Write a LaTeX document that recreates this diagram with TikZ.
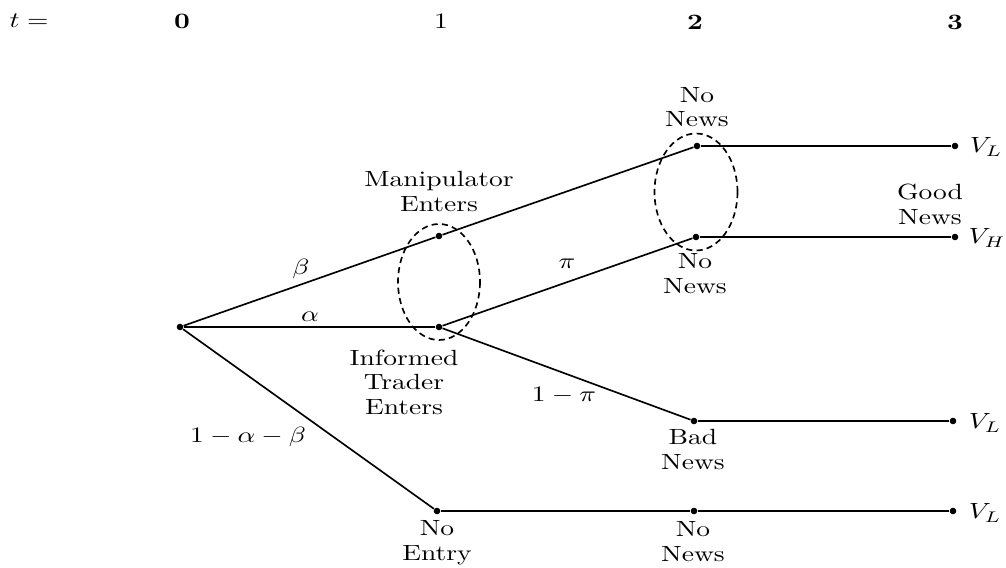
\documentclass[tikz,border=0pt]{standalone}
\usepackage{graphicx}
\newcommand{\wtext}[1]{\scalebox{1.25}[1]{\begin{tabular}{@{}c@{}}#1\end{tabular}}}
\renewcommand{\arraystretch}{0.92}
\tikzset{
  edge/.style={line width=0.75pt},
  dot/.style={circle, fill=black, inner sep=0pt, minimum size=3pt},
  lbl/.style={inner sep=0pt, anchor=center},
  infoset/.style={line width=0.75pt, dash pattern=on 2.8pt off 1.9pt},
}
\begin{document}
\begin{tikzpicture}[x=0.4545pt, y=-0.4545pt]
\useasboundingbox (0,0) rectangle (1006,568);
% header
\node[lbl] (th) at (29,23) {\wtext{$t=$}};
\node[lbl] (t0) at (182,24) {\wtext{\textbf{0}}};
\node[lbl] (t1) at (441,24) {\wtext{1}};
\node[lbl] (t2) at (695,25) {\wtext{\textbf{2}}};
\node[lbl] (t3) at (955,25) {\wtext{\textbf{3}}};
% decision nodes
\node[dot] (R) at (180,327) {};
\node[dot] (M) at (439,236) {};
\node[dot] (I) at (439,327) {};
\node[dot] (NE) at (437,511) {};
\node[dot] (N1) at (697,146) {};
\node[dot] (N2) at (696,237) {};
\node[dot] (B) at (694,421) {};
\node[dot] (N3) at (694,511) {};
\node[dot] (E1) at (955,146) {};
\node[dot] (E2) at (955,237) {};
\node[dot] (E3) at (953,421) {};
\node[dot] (E4) at (953,511) {};
% edges
\draw[edge] (R) -- (M);
\draw[edge] (R) -- (I);
\draw[edge] (R) -- (NE);
\draw[edge] (M) -- (N1);
\draw[edge] (I) -- (N2);
\draw[edge] (I) -- (B);
\draw[edge] (NE) -- (N3);
\draw[edge] (N1) -- (E1);
\draw[edge] (N2) -- (E2);
\draw[edge] (B) -- (E3);
\draw[edge] (N3) -- (E4);
% information sets
\draw[infoset] (439,282) ellipse [x radius=41, y radius=58];
\draw[infoset] (696,192) ellipse [x radius=41.5, y radius=58.5];
% probability labels
\node[lbl] (lb) at (301,270) {\wtext{$\beta$}};
\node[lbl] (la) at (310,317) {\wtext{$\alpha$}};
\node[lbl] (lab) at (248,438) {\wtext{$1-\alpha-\beta$}};
\node[lbl] (lp) at (567,264) {\wtext{$\pi$}};
\node[lbl] (l1p) at (564,397) {\wtext{$1-\pi$}};
% node texts
\node[lbl] (tM) at (439,194) {\wtext{Manipulator\\Enters}};
\node[lbl] (tI) at (404,385) {\wtext{Informed\\Trader\\Enters}};
\node[lbl] (tN1) at (697,110) {\wtext{No\\News}};
\node[lbl] (tN2) at (695,276) {\wtext{No\\News}};
\node[lbl] (tB) at (693,452) {\wtext{Bad\\News}};
\node[lbl] (tNE) at (437,543) {\wtext{No\\Entry}};
\node[lbl] (tN3) at (693,544) {\wtext{No\\News}};
\node[lbl] (tG) at (930,207) {\wtext{Good\\News}};
% outcomes
\node[lbl] (v1) at (986,148) {\wtext{$V_L$}};
\node[lbl] (v2) at (987,239) {\wtext{$V_H$}};
\node[lbl] (v3) at (985,424) {\wtext{$V_L$}};
\node[lbl] (v4) at (985,514) {\wtext{$V_L$}};
\end{tikzpicture}
\end{document}
